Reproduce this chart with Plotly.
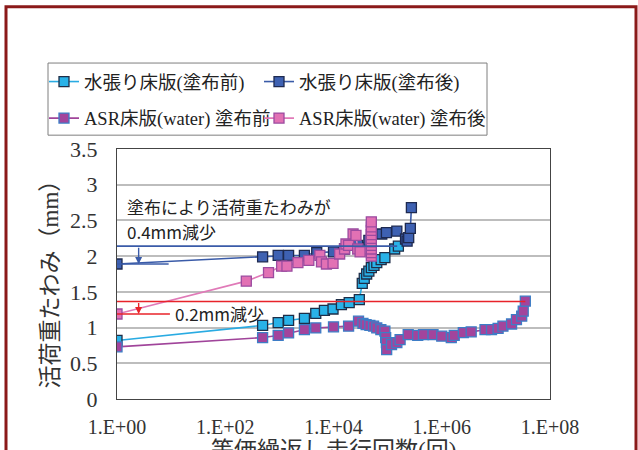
import numpy as np
import plotly.graph_objects as go

# Equivalent repeated-load cycles (x) and live-load deflection in mm (y)
water_before_x = [1, 490, 950, 1480, 2900, 4700, 6800, 9800, 14000, 19500, 30000,
                  34000, 37000, 41000, 45000, 50000, 56000, 63000, 76000, 89000,
                  135000, 158000]
water_before_y = [0.82, 1.03, 1.07, 1.10, 1.13, 1.20, 1.24, 1.26, 1.32, 1.35, 1.39,
                  1.62, 1.69, 1.75, 1.79, 1.84, 1.87, 1.91, 1.95, 1.98,
                  2.10, 2.14]

water_after_x = [1, 490, 950, 1480, 2900, 4900, 10000, 16000, 28000, 45000, 78000,
                 95000, 148000, 214000, 229000, 245000, 263000, 275000]
water_after_y = [1.89, 1.99, 2.01, 2.01, 2.01, 2.05, 2.06, 2.10, 2.15, 2.22, 2.31,
                 2.33, 2.35, 2.24, 2.21, 2.26, 2.39, 2.68]

asr_before_x = [1, 490, 950, 1480, 2900, 4700, 10000, 19000, 29000, 35000, 40000,
                47000, 55000, 63000, 75000, 89000, 92000, 95000, 96000, 118000,
                148000, 170000, 240000, 360000, 460000, 690000, 1000000, 1500000,
                1700000, 2500000, 3500000, 6300000, 8300000, 11000000, 13500000,
                19500000, 24000000, 30000000, 32000000, 35000000]
asr_before_y = [0.73, 0.86, 0.89, 0.925, 0.97, 0.995, 1.01, 1.02, 1.09, 1.06, 1.04,
                1.03, 1.02, 0.995, 0.97, 0.95, 0.86, 0.79, 0.69, 0.76,
                0.79, 0.83, 0.90, 0.89, 0.90, 0.90, 0.88, 0.86,
                0.89, 0.93, 0.94, 0.97, 0.97, 0.99, 1.02,
                1.05, 1.11, 1.16, 1.23, 1.37]

asr_after_x = [1, 245, 630, 1100, 1380, 2200, 3500, 5600, 6000, 7400, 9800, 13000,
               16000, 17000, 19000, 23000, 26000, 28000, 31000,
               50000, 50000, 50000, 50000, 50000, 50000, 50000, 50000, 50000, 50000]
asr_after_y = [1.19, 1.65, 1.77, 1.86, 1.86, 1.91, 1.94, 2.01, 1.92, 1.89, 1.90, 2.03,
               2.10, 2.17, 2.15, 2.31, 2.29, 2.10, 2.06,
               2.00, 2.05, 2.10, 2.15, 2.20, 2.25, 2.30, 2.36, 2.41, 2.48]

# Reference levels for the reduction callouts
water_level_x = [1, 150000]
water_level_y = [2.14, 2.14]
water_start_x = [1, 9]
water_start_y = [1.89, 1.89]
asr_level_x = [1, 35000000]
asr_level_y = [1.365, 1.365]
asr_start_x = [1, 9.5]
asr_start_y = [1.19, 1.19]

x_tickvals = [1, 1e2, 1e4, 1e6, 1e8]
x_ticktext = ["1.E+00", "1.E+02", "1.E+04", "1.E+06", "1.E+08"]

SERIF = "Liberation Serif, Noto Sans CJK JP, serif"
SANS = "Noto Sans CJK JP, Noto Sans, sans-serif"

L, R, T, B = 117, 88, 149, 48
PW, PH = 638 - L - R, 450 - T - B


def px_x(v):
    return (v - L) / PW


def px_y(v):
    return (450 - B - v) / PH


# name, x, y, line colour, fill, edge, legend id, legend position (px)
series = [
    ("水張り床版(塗布前)", water_before_x, water_before_y, "#29ABE2", "#29B2E8", "#1E2E48",
     "legend", (44, 62)),
    ("水張り床版(塗布後)", water_after_x, water_after_y, "#3A5BA8", "#3E61B2", "#1E2A50",
     "legend2", (259, 62)),
    ("ASR床版(water) 塗布前", asr_before_x, asr_before_y, "#A0449A", "#A3449C", "#3D7DC6",
     "legend3", (44, 99)),
    ("ASR床版(water) 塗布後", asr_after_x, asr_after_y, "#E07AB8", "#E271B4", "#9B4BA0",
     "legend4", (259, 99)),
]

fig = go.Figure()
legends = {}
for name, xs, ys, lc, fc, ec, lg, (lx, ly) in series:
    fig.add_trace(go.Scatter(
        x=xs, y=ys, name=name, mode="lines+markers", legend=lg,
        line=dict(color=lc, width=1.6),
        marker=dict(symbol="square", size=10, color=fc, line=dict(color=ec, width=1.3)),
    ))
    legends[lg] = dict(x=px_x(lx), y=px_y(ly), xanchor="left", yanchor="top",
                       borderwidth=0, bgcolor="rgba(0,0,0,0)", itemwidth=30,
                       font=dict(family=SERIF, size=18.5, color="#222"))

for xs, ys, col in [(water_level_x, water_level_y, "#3A5BA8"),
                    (water_start_x, water_start_y, "#3A5BA8"),
                    (asr_level_x, asr_level_y, "#E8232A"),
                    (asr_start_x, asr_start_y, "#E8232A")]:
    fig.add_trace(go.Scatter(x=xs, y=ys, mode="lines", showlegend=False,
                             hoverinfo="skip", line=dict(color=col, width=1.6)))

# Downward arrows between the level lines
for y_from, y_to, col in [(2.14, 1.89, "#3A5BA8"), (1.365, 1.19, "#E8232A")]:
    fig.add_annotation(x=0.4, y=y_to, ax=0.4, ay=y_from, xref="x", yref="y",
                       axref="x", ayref="y", text="", showarrow=True,
                       arrowhead=2, arrowsize=1, arrowwidth=1.4, arrowcolor=col)

fig.add_annotation(x=0.15, y=2.70, xref="x", yref="y", text="塗布により活荷重たわみが",
                   showarrow=False, xanchor="left", yanchor="middle",
                   font=dict(family=SANS, size=17, color="#222"))
fig.add_annotation(x=0.15, y=2.35, xref="x", yref="y", text="0.4mm減少",
                   showarrow=False, xanchor="left", yanchor="middle",
                   font=dict(family=SANS, size=17, color="#222"))
fig.add_annotation(x=1.03, y=1.20, xref="x", yref="y", text="0.2mm減少",
                   showarrow=False, xanchor="left", yanchor="middle",
                   font=dict(family=SANS, size=17, color="#222"))

# Axis titles
fig.add_annotation(x=px_x(50), y=px_y(280), xref="paper", yref="paper",
                   text="活荷重たわみ（mm）", textangle=-90, showarrow=False,
                   xanchor="center", yanchor="middle",
                   font=dict(family=SERIF, size=23, color="#333"))
fig.add_annotation(x=0.5, y=px_y(439), xref="paper", yref="paper",
                   text="等価繰返し走行回数(回)", showarrow=False,
                   xanchor="center", yanchor="top",
                   font=dict(family=SERIF, size=23, color="#333"))

# Legend frame around both legend rows
fig.add_shape(type="rect", xref="paper", yref="paper",
              x0=px_x(48), x1=px_x(487), y0=px_y(135), y1=px_y(62),
              line=dict(color="#7F7F7F", width=1), fillcolor="white", layer="below")

# Outer frame
fig.add_shape(type="rect", xref="paper", yref="paper",
              x0=px_x(6), x1=px_x(636), y0=px_y(470), y1=px_y(5),
              line=dict(color="#8B1A1A", width=3), fillcolor="rgba(0,0,0,0)", layer="above")

fig.update_layout(
    width=638, height=450,
    margin=dict(l=L, r=R, t=T, b=B),
    paper_bgcolor="white", plot_bgcolor="white",
    font=dict(family=SERIF, color="#333"),
    xaxis=dict(type="log", range=[0, 8], tickvals=x_tickvals, ticktext=x_ticktext,
               showgrid=False, zeroline=False, ticks="", showline=True, mirror=True,
               linecolor="#444", linewidth=1, ticklabelstandoff=10,
               tickfont=dict(family=SERIF, size=20, color="#333")),
    yaxis=dict(range=[0, 3.5], dtick=0.5, showgrid=True, gridcolor="#BDBDBD", gridwidth=1.5,
               zeroline=False, ticks="", showline=True, mirror=True,
               linecolor="#444", linewidth=1, ticklabelstandoff=14,
               tickfont=dict(family=SERIF, size=22, color="#333")),
    **legends,
)

fig.write_html("out.html")
